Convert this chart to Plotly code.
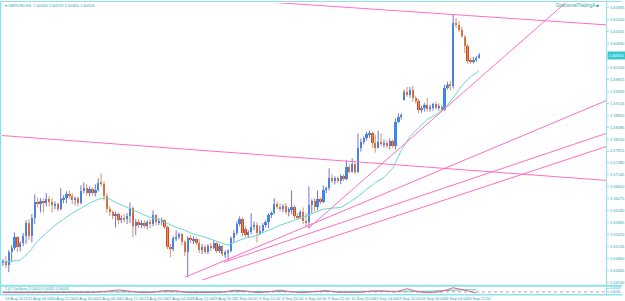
import plotly.graph_objects as go

W, H = 625, 301

# ---------------- data (GBPUSD, H4) ----------------
bar_open = [
    1.5467, 1.5472, 1.5461, 1.5497, 1.5509, 1.5539, 1.5511, 1.5523, 1.5542, 1.5579,
    1.5542, 1.5593, 1.5637, 1.5635, 1.5640, 1.5635, 1.5646, 1.5637, 1.5629, 1.5632,
    1.5618, 1.5646, 1.5649, 1.5660, 1.5654, 1.5643, 1.5649, 1.5635, 1.5668, 1.5677,
    1.5665, 1.5674, 1.5663, 1.5671, 1.5693, 1.5688, 1.5654, 1.5618, 1.5609, 1.5598,
    1.5604, 1.5587, 1.5593, 1.5590, 1.5598, 1.5621, 1.5570, 1.5581, 1.5573, 1.5579,
    1.5570, 1.5581, 1.5576, 1.5601, 1.5581, 1.5584, 1.5587, 1.5567, 1.5511, 1.5506,
    1.5537, 1.5539, 1.5548, 1.5525, 1.5497, 1.5537, 1.5531, 1.5534, 1.5523, 1.5503,
    1.5511, 1.5497, 1.5514, 1.5509, 1.5523, 1.5500, 1.5514, 1.5492, 1.5497, 1.5500,
    1.5537, 1.5551, 1.5576, 1.5590, 1.5562, 1.5545, 1.5553, 1.5567, 1.5573, 1.5551,
    1.5556, 1.5573, 1.5581, 1.5601, 1.5607, 1.5632, 1.5623, 1.5621, 1.5626, 1.5609,
    1.5618, 1.5623, 1.5598, 1.5595, 1.5609, 1.5584, 1.5581, 1.5629, 1.5640, 1.5623,
    1.5646, 1.5637, 1.5671, 1.5677, 1.5707, 1.5696, 1.5705, 1.5696, 1.5710, 1.5702,
    1.5738, 1.5724, 1.5744, 1.5724, 1.5789, 1.5808, 1.5817, 1.5828, 1.5831, 1.5803,
    1.5791, 1.5808, 1.5800, 1.5805, 1.5797, 1.5811, 1.5797, 1.5864, 1.5878, 1.5926,
    1.5948, 1.5940, 1.5954, 1.5931, 1.5923, 1.5898, 1.5903, 1.5912, 1.5901, 1.5903,
    1.5915, 1.5903, 1.5906, 1.5898, 1.5959, 1.5968, 1.5965, 1.6141, 1.6136, 1.6122,
    1.6102, 1.6077, 1.6035, 1.6032, 1.6038, 1.6043,
]
bar_high = [
    1.5478, 1.5486, 1.5503, 1.5517, 1.5553, 1.5542, 1.5528, 1.5551, 1.5587, 1.5590,
    1.5604, 1.5660, 1.5651, 1.5649, 1.5649, 1.5663, 1.5654, 1.5649, 1.5640, 1.5637,
    1.5677, 1.5657, 1.5668, 1.5671, 1.5663, 1.5654, 1.5654, 1.5685, 1.5693, 1.5688,
    1.5682, 1.5679, 1.5688, 1.5705, 1.5719, 1.5696, 1.5663, 1.5626, 1.5615, 1.5612,
    1.5609, 1.5601, 1.5604, 1.5607, 1.5637, 1.5626, 1.5590, 1.5590, 1.5587, 1.5587,
    1.5587, 1.5590, 1.5615, 1.5604, 1.5593, 1.5595, 1.5590, 1.5573, 1.5520, 1.5542,
    1.5559, 1.5553, 1.5551, 1.5531, 1.5542, 1.5545, 1.5542, 1.5539, 1.5534, 1.5520,
    1.5517, 1.5520, 1.5523, 1.5531, 1.5525, 1.5520, 1.5517, 1.5503, 1.5506, 1.5542,
    1.5559, 1.5584, 1.5598, 1.5595, 1.5570, 1.5559, 1.5607, 1.5584, 1.5581, 1.5573,
    1.5579, 1.5587, 1.5607, 1.5612, 1.5649, 1.5640, 1.5635, 1.5632, 1.5635, 1.5623,
    1.5671, 1.5629, 1.5607, 1.5615, 1.5623, 1.5607, 1.5682, 1.5646, 1.5649, 1.5671,
    1.5651, 1.5685, 1.5682, 1.5733, 1.5716, 1.5710, 1.5710, 1.5716, 1.5716, 1.5755,
    1.5744, 1.5761, 1.5749, 1.5831, 1.5817, 1.5822, 1.5836, 1.5839, 1.5836, 1.5828,
    1.5839, 1.5831, 1.5814, 1.5811, 1.5817, 1.5814, 1.5873, 1.5887, 1.5887, 1.5954,
    1.5962, 1.5962, 1.5965, 1.5937, 1.5929, 1.5909, 1.5917, 1.5931, 1.5912, 1.5917,
    1.5920, 1.5915, 1.5912, 1.5968, 1.5976, 1.5979, 1.6164, 1.6155, 1.6147, 1.6130,
    1.6108, 1.6083, 1.6043, 1.6046, 1.6049, 1.6057,
]
bar_low = [
    1.5458, 1.5453, 1.5441, 1.5469, 1.5503, 1.5497, 1.5500, 1.5514, 1.5520, 1.5531,
    1.5525, 1.5576, 1.5623, 1.5609, 1.5609, 1.5626, 1.5626, 1.5609, 1.5618, 1.5612,
    1.5615, 1.5635, 1.5635, 1.5646, 1.5632, 1.5629, 1.5626, 1.5632, 1.5663, 1.5657,
    1.5654, 1.5657, 1.5654, 1.5668, 1.5682, 1.5643, 1.5609, 1.5598, 1.5590, 1.5567,
    1.5576, 1.5579, 1.5581, 1.5576, 1.5579, 1.5539, 1.5545, 1.5565, 1.5565, 1.5565,
    1.5562, 1.5565, 1.5570, 1.5573, 1.5573, 1.5573, 1.5562, 1.5506, 1.5483, 1.5500,
    1.5528, 1.5534, 1.5517, 1.5486, 1.5427, 1.5523, 1.5520, 1.5517, 1.5495, 1.5492,
    1.5492, 1.5492, 1.5500, 1.5506, 1.5495, 1.5495, 1.5486, 1.5481, 1.5475, 1.5497,
    1.5523, 1.5545, 1.5570, 1.5542, 1.5539, 1.5537, 1.5548, 1.5559, 1.5525, 1.5545,
    1.5551, 1.5567, 1.5565, 1.5593, 1.5604, 1.5618, 1.5612, 1.5609, 1.5604, 1.5598,
    1.5604, 1.5590, 1.5590, 1.5590, 1.5576, 1.5567, 1.5565, 1.5607, 1.5612, 1.5615,
    1.5632, 1.5635, 1.5663, 1.5671, 1.5691, 1.5688, 1.5691, 1.5688, 1.5696, 1.5699,
    1.5719, 1.5721, 1.5716, 1.5719, 1.5780, 1.5800, 1.5811, 1.5819, 1.5791, 1.5777,
    1.5789, 1.5794, 1.5791, 1.5789, 1.5786, 1.5791, 1.5786, 1.5861, 1.5870, 1.5923,
    1.5934, 1.5931, 1.5920, 1.5915, 1.5887, 1.5889, 1.5892, 1.5892, 1.5892, 1.5895,
    1.5898, 1.5895, 1.5892, 1.5895, 1.5954, 1.5951, 1.5957, 1.6127, 1.6116, 1.6099,
    1.6057, 1.6027, 1.6027, 1.6027, 1.6032, 1.6041,
]
bar_close = [
    1.5472, 1.5461, 1.5497, 1.5509, 1.5539, 1.5511, 1.5523, 1.5542, 1.5579, 1.5542,
    1.5593, 1.5637, 1.5635, 1.5640, 1.5635, 1.5646, 1.5637, 1.5629, 1.5632, 1.5618,
    1.5646, 1.5649, 1.5660, 1.5654, 1.5643, 1.5649, 1.5635, 1.5668, 1.5677, 1.5665,
    1.5674, 1.5663, 1.5671, 1.5693, 1.5688, 1.5654, 1.5618, 1.5609, 1.5598, 1.5604,
    1.5587, 1.5593, 1.5590, 1.5598, 1.5621, 1.5570, 1.5581, 1.5573, 1.5579, 1.5570,
    1.5581, 1.5576, 1.5601, 1.5581, 1.5584, 1.5587, 1.5567, 1.5511, 1.5506, 1.5537,
    1.5539, 1.5548, 1.5525, 1.5497, 1.5537, 1.5531, 1.5534, 1.5523, 1.5503, 1.5511,
    1.5497, 1.5514, 1.5509, 1.5523, 1.5500, 1.5514, 1.5492, 1.5497, 1.5500, 1.5537,
    1.5551, 1.5576, 1.5590, 1.5551, 1.5545, 1.5553, 1.5567, 1.5573, 1.5551, 1.5556,
    1.5573, 1.5581, 1.5601, 1.5607, 1.5632, 1.5623, 1.5621, 1.5626, 1.5609, 1.5618,
    1.5623, 1.5598, 1.5595, 1.5609, 1.5584, 1.5581, 1.5629, 1.5640, 1.5623, 1.5646,
    1.5637, 1.5671, 1.5677, 1.5707, 1.5696, 1.5705, 1.5696, 1.5710, 1.5702, 1.5738,
    1.5724, 1.5744, 1.5724, 1.5789, 1.5808, 1.5817, 1.5828, 1.5831, 1.5803, 1.5791,
    1.5808, 1.5800, 1.5805, 1.5797, 1.5811, 1.5797, 1.5864, 1.5878, 1.5881, 1.5948,
    1.5940, 1.5954, 1.5931, 1.5923, 1.5898, 1.5903, 1.5912, 1.5901, 1.5903, 1.5915,
    1.5903, 1.5906, 1.5898, 1.5959, 1.5968, 1.5965, 1.6141, 1.6136, 1.6122, 1.6105,
    1.6077, 1.6035, 1.6032, 1.6038, 1.6043, 1.6051,
]

# moving average (read every 3rd bar)
ma_step = 3
ma_values = [
    1.5469, 1.5472, 1.5475, 1.5497, 1.5528, 1.5551, 1.5573, 1.5590, 1.5607, 1.5621,
    1.5635, 1.5646, 1.5651, 1.5637, 1.5626, 1.5615, 1.5604, 1.5595, 1.5590, 1.5579,
    1.5567, 1.5559, 1.5548, 1.5542, 1.5534, 1.5525, 1.5517, 1.5528, 1.5537, 1.5542,
    1.5551, 1.5562, 1.5573, 1.5581, 1.5590, 1.5598, 1.5609, 1.5618, 1.5621, 1.5623,
    1.5637, 1.5654, 1.5674, 1.5693, 1.5707, 1.5733, 1.5783, 1.5822, 1.5847, 1.5870,
    1.5884, 1.5901, 1.5931, 1.5965, 1.5990, 1.6007,
]

# trend lines (bar index / price anchors)
trend_start_bar = [63.1, 76.55, 68.97, 105.86, 70.0, -0.35]
trend_start_price = [1.5427, 1.5469, 1.5419, 1.5565, 1.6212, 1.5825]
trend_end_bar = [209, 209, 209, 209, 209, 209]
trend_end_price = [1.5923, 1.5831, 1.5794, 1.6298, 1.6136, 1.5699]

# oscillator sub-window (read every 4th bar)
osc_step = 4
osc_main = [0.2, 0.2, 0.25, 0.2, 0.2, 0.25, 0.2, 0.2, 0.25, 0.4,
            0.6, 0.4, 0.2, 0.25, 0.5, 0.45, 0.2, 0.2, 0.2, 0.25,
            0.55, 0.45, 0.2, 0.3, 0.55, 0.3, 0.2, 0.3, 0.5, 0.25,
            0.2, 0.25, 0.45, 0.45, 0.3, 0.75, 0.3, 0.2, 0.35, 0.9,
            0.55, 0.15]
osc_signal = [0.3, 0.3, 0.3, 0.3, 0.3, 0.3, 0.3, 0.3, 0.3, 0.3,
              0.35, 0.35, 0.3, 0.3, 0.3, 0.35, 0.3, 0.3, 0.3, 0.3,
              0.35, 0.35, 0.3, 0.3, 0.35, 0.35, 0.3, 0.3, 0.3, 0.3,
              0.3, 0.3, 0.35, 0.35, 0.35, 0.4, 0.4, 0.4, 0.5, 0.6,
              0.6, 0.6]
osc_level = 0.3

# axis labels
time_tick_bars = [0, 8, 16, 24, 32, 40, 48, 56, 64, 72, 80, 88, 96, 104, 112,
                  120, 128, 136, 144, 152, 160]
time_tick_labels = ["13 Aug 2013", "15 Aug 04:00", "16 Aug 12:00", "19 Aug 20:00",
                    "21 Aug 04:00", "22 Aug 12:00", "23 Aug 20:00", "27 Aug 04:00",
                    "28 Aug 12:00", "29 Aug 20:00", "2 Sep 04:00", "3 Sep 12:00",
                    "4 Sep 20:00", "6 Sep 04:00", "9 Sep 12:00", "10 Sep 20:00",
                    "12 Sep 04:00", "13 Sep 12:00", "16 Sep 20:00", "18 Sep 04:00",
                    "19 Sep 12:00"]
price_tick_values = [1.61835, 1.61500, 1.61165, 1.60830, 1.60160, 1.59825,
                     1.59490, 1.59155, 1.58820, 1.58485, 1.58150, 1.57815, 1.57480,
                     1.57145, 1.56810, 1.56475, 1.56140, 1.55805, 1.55470, 1.55135,
                     1.54800, 1.54465, 1.54130]
current_price = 1.60505
title_text = "\u25be GBPUSD,H4  1.60430 1.60570 1.60410 1.60505"
osc_title = "2.47 Oscillator (1.0000) 0.00031 0.00026"
osc_tick_values = [0.85, 0.3]
osc_tick_labels = ["0.00163", "0.00000"]

# ---------------- styling ----------------
FONT = "Liberation Sans"
TXT = "#2EA6B2"
AXC = "#8FE2E8"
BODY_UP = "#1C96E8"
BODY_DN = "#E5421C"
WICK_UP = "#7A70D8"
WICK_DN = "#C99A6B"
MA_COL = "#6AD6D2"
TREND = "#FF6EC4"


def pxx(p):
    return p / W


def pxy(p):
    return 1 - p / H


n = len(bar_close)
idx = list(range(n))
x_range = [-0.345, 208.97]

fig = go.Figure()

# wicks
for up in (True, False):
    xs, ys = [], []
    for i in idx:
        if (bar_close[i] >= bar_open[i]) == up:
            xs += [i, i, None]
            ys += [bar_low[i], bar_high[i], None]
    fig.add_trace(go.Scatter(x=xs, y=ys, mode="lines",
                             line=dict(color=WICK_UP if up else WICK_DN, width=1),
                             hoverinfo="skip", xaxis="x", yaxis="y"))

# bodies
fig.add_trace(go.Bar(
    x=idx, base=bar_open,
    y=[c - o for o, c in zip(bar_open, bar_close)],
    width=0.8,
    marker=dict(color=[BODY_UP if c >= o else BODY_DN for o, c in zip(bar_open, bar_close)],
                line=dict(width=0)),
    hoverinfo="skip", xaxis="x", yaxis="y"))

# moving average
fig.add_trace(go.Scatter(x=[i * ma_step for i in range(len(ma_values))], y=ma_values,
                         mode="lines", line=dict(color=MA_COL, width=1),
                         hoverinfo="skip", xaxis="x", yaxis="y"))

# trend lines
tx, ty = [], []
for b0, p0, b1, p1 in zip(trend_start_bar, trend_start_price, trend_end_bar, trend_end_price):
    tx += [b0, b1, None]
    ty += [p0, p1, None]
fig.add_trace(go.Scatter(x=tx, y=ty, mode="lines", line=dict(color=TREND, width=1),
                         hoverinfo="skip", xaxis="x", yaxis="y"))

# oscillator window
fig.add_trace(go.Scatter(x=x_range, y=[osc_level, osc_level], mode="lines",
                         line=dict(color="#A8A8A8", width=1, dash="dot"),
                         hoverinfo="skip", xaxis="x2", yaxis="y2"))
osc_x = [i * osc_step for i in range(len(osc_main))]
fig.add_trace(go.Scatter(x=osc_x, y=osc_signal, mode="lines",
                         line=dict(color="#58C4C0", width=1),
                         hoverinfo="skip", xaxis="x2", yaxis="y2"))
fig.add_trace(go.Scatter(x=osc_x, y=osc_main, mode="lines",
                         line=dict(color="#E0607F", width=1),
                         hoverinfo="skip", xaxis="x2", yaxis="y2"))

axis_off = dict(showgrid=False, zeroline=False, showticklabels=False, ticks="",
                showline=False, fixedrange=True)

fig.update_layout(
    width=W, height=H,
    margin=dict(l=0, r=0, t=0, b=0),
    paper_bgcolor="white", plot_bgcolor="white",
    showlegend=False, bargap=0,
    font=dict(family=FONT, size=4, color=TXT),
    xaxis=dict(domain=[pxx(2), pxx(609)], range=x_range, anchor="y", **axis_off),
    yaxis=dict(domain=[pxy(285), pxy(2)], range=[1.5405, 1.61974], anchor="x",
               side="right", tickvals=price_tick_values,
               ticktext=["%.5f" % v for v in price_tick_values],
               tickfont=dict(size=4, color=TXT, family=FONT),
               ticks="outside", ticklen=2, tickcolor=AXC,
               showgrid=False, zeroline=False, showline=False, fixedrange=True),
    xaxis2=dict(domain=[pxx(2), pxx(609)], range=x_range, anchor="y2", **axis_off),
    yaxis2=dict(domain=[pxy(294), pxy(287)], range=[0, 1], anchor="x2",
                side="right", tickvals=osc_tick_values, ticktext=osc_tick_labels,
                tickfont=dict(size=3, color=TXT, family=FONT),
                ticks="outside", ticklen=2, tickcolor=AXC,
                showgrid=False, zeroline=False, showline=False, fixedrange=True),
)

# frame / separators
shapes = [
    dict(type="line", xref="paper", yref="paper", x0=0, x1=1, y0=pxy(0.5), y1=pxy(0.5),
         line=dict(color=AXC, width=1)),
    dict(type="line", xref="paper", yref="paper", x0=pxx(0.5), x1=pxx(0.5), y0=pxy(295), y1=1,
         line=dict(color=AXC, width=1.5)),
    dict(type="line", xref="paper", yref="paper", x0=pxx(609.5), x1=pxx(609.5), y0=pxy(295), y1=1,
         line=dict(color=AXC, width=1)),
    dict(type="line", xref="paper", yref="paper", x0=0, x1=1, y0=pxy(285.8), y1=pxy(285.8),
         line=dict(color=AXC, width=2)),
    dict(type="line", xref="paper", yref="paper", x0=0, x1=1, y0=pxy(294.8), y1=pxy(294.8),
         line=dict(color=AXC, width=1.5)),
]
fig.update_layout(shapes=shapes)

ann = []
for b, t in zip(time_tick_bars, time_tick_labels):
    ann.append(dict(x=b, xref="x", y=pxy(298.5), yref="paper", text=t, showarrow=False,
                    xanchor="left", yanchor="middle", font=dict(size=4, color=TXT, family=FONT)))
ann.append(dict(x=pxx(3), xref="paper", y=pxy(5), yref="paper", text=title_text,
                showarrow=False, xanchor="left", yanchor="middle",
                font=dict(size=4, color=TXT, family=FONT)))
ann.append(dict(x=pxx(3), xref="paper", y=pxy(288.8), yref="paper", text=osc_title,
                showarrow=False, xanchor="left", yanchor="middle",
                font=dict(size=3.5, color=TXT, family=FONT)))
ann.append(dict(x=pxx(604), xref="paper", y=pxy(5), yref="paper", text="DirectionalTradingA \u25a0",
                showarrow=False, xanchor="right", yanchor="middle",
                font=dict(size=4.5, color=TXT, family=FONT)))
ann.append(dict(x=pxx(610), xref="paper", y=current_price, yref="y", text="%.5f" % current_price,
                showarrow=False, xanchor="left", yanchor="middle", bgcolor="#36C8CF",
                borderpad=1, font=dict(size=4, color="white", family=FONT)))
fig.update_layout(annotations=ann)

fig.write_html("out.html")
